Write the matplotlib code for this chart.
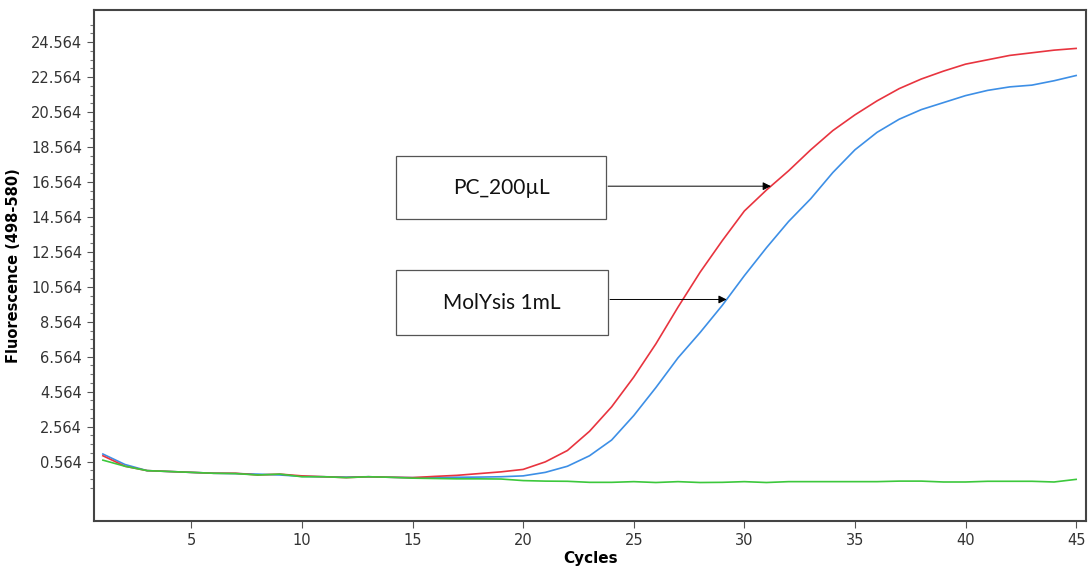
import matplotlib.pyplot as plt
from matplotlib.patches import Rectangle
from matplotlib.ticker import FixedLocator
import numpy as np

ciclos = np.arange(1, 46)

# PC_200uL (rojo)
pc_200 = [0.90, 0.30, 0.05, 0.00, -0.05, -0.10, -0.10, -0.20, -0.15, -0.25,
          -0.30, -0.35, -0.30, -0.33, -0.35, -0.28, -0.22, -0.12, -0.02, 0.12,
          0.55, 1.20, 2.30, 3.70, 5.40, 7.30, 9.40, 11.40, 13.20, 14.90,
          16.10, 17.20, 18.40, 19.50, 20.40, 21.20, 21.90, 22.45, 22.90, 23.30,
          23.55, 23.80, 23.95, 24.10, 24.20]

# MolYsis 1mL (azul)
molysis = [1.00, 0.40, 0.05, 0.00, -0.05, -0.10, -0.12, -0.15, -0.20, -0.28,
           -0.30, -0.32, -0.30, -0.33, -0.35, -0.35, -0.33, -0.32, -0.30, -0.25,
           -0.05, 0.30, 0.90, 1.80, 3.20, 4.80, 6.50, 7.95, 9.50, 11.20,
           12.80, 14.30, 15.60, 17.10, 18.40, 19.40, 20.15, 20.70, 21.10, 21.50,
           21.80, 22.00, 22.10, 22.35, 22.65]

# Control negativo (verde)
negativo = [0.65, 0.30, 0.05, 0.00, -0.05, -0.10, -0.12, -0.20, -0.15, -0.30,
            -0.30, -0.35, -0.30, -0.33, -0.38, -0.40, -0.42, -0.42, -0.43, -0.52,
            -0.55, -0.56, -0.62, -0.62, -0.58, -0.63, -0.58, -0.63, -0.62, -0.58,
            -0.63, -0.58, -0.58, -0.58, -0.58, -0.58, -0.55, -0.55, -0.60, -0.60,
            -0.56, -0.56, -0.56, -0.60, -0.45]

yticks = [0.564 + 2 * i for i in range(13)]
ytick_labels = ["%.3f" % v for v in yticks]

etiquetas = ["PC_200µL", "MolYsis 1mL"]
ciclo_flecha = [31.2, 29.2]

fig = plt.figure(figsize=(10.91, 5.72), dpi=100)
ax = fig.add_axes([0.0862, 0.0892, 0.9093, 0.8934])

ax.plot(ciclos, molysis, color='#3d8fe6', lw=1.2)
ax.plot(ciclos, pc_200, color='#e8343f', lw=1.2)
ax.plot(ciclos, negativo, color='#3cc83c', lw=1.2)

ax.set_xlim(0.6, 45.45)
ax.set_ylim(-2.83, 26.4)
ax.set_xticks([5, 10, 15, 20, 25, 30, 35, 40, 45])
ax.set_yticks(yticks)
ax.set_yticklabels(ytick_labels)
ax.yaxis.set_minor_locator(FixedLocator(np.arange(-0.936, 26.0, 0.5)))
ax.tick_params(axis='both', which='major', direction='out', length=5, width=0.8,
               color='#555555', labelsize=10.5, labelcolor='#333333')
ax.tick_params(axis='y', which='minor', direction='out', length=3, width=0.8, color='#777777')

for s in ax.spines.values():
    s.set_color('#444444')
    s.set_linewidth(1.5)

ax.set_xlabel('Cycles', fontweight='bold', fontsize=11, labelpad=2)
ax.set_ylabel('Fluorescence (498-580)', fontweight='bold', fontsize=10.5, labelpad=7)

# cajas con etiqueta y flechas
cajas = [(0.3044, 0.591, 0.2117, 0.123), (0.3044, 0.364, 0.2137, 0.127)]
series = [pc_200, molysis]
for caja, texto, cf, serie in zip(cajas, etiquetas, ciclo_flecha, series):
    x0, y0, w, h = caja
    ax.add_patch(Rectangle((x0, y0), w, h, transform=ax.transAxes, fill=False,
                           edgecolor='#555555', lw=0.9))
    ax.text(x0 + w / 2, y0 + h / 2, texto, transform=ax.transAxes, ha='center',
            va='center', fontsize=15, family='Lato', color='#111111')
    yv = np.interp(cf, ciclos, serie)
    ax.annotate('', xy=(cf, yv), xycoords='data',
                xytext=(x0 + w + 0.002, yv), textcoords=('axes fraction', 'data'),
                arrowprops=dict(arrowstyle='-|>', color='black', lw=0.7,
                                mutation_scale=12, shrinkA=0, shrinkB=0))

fig.savefig('out.png', dpi=100)
